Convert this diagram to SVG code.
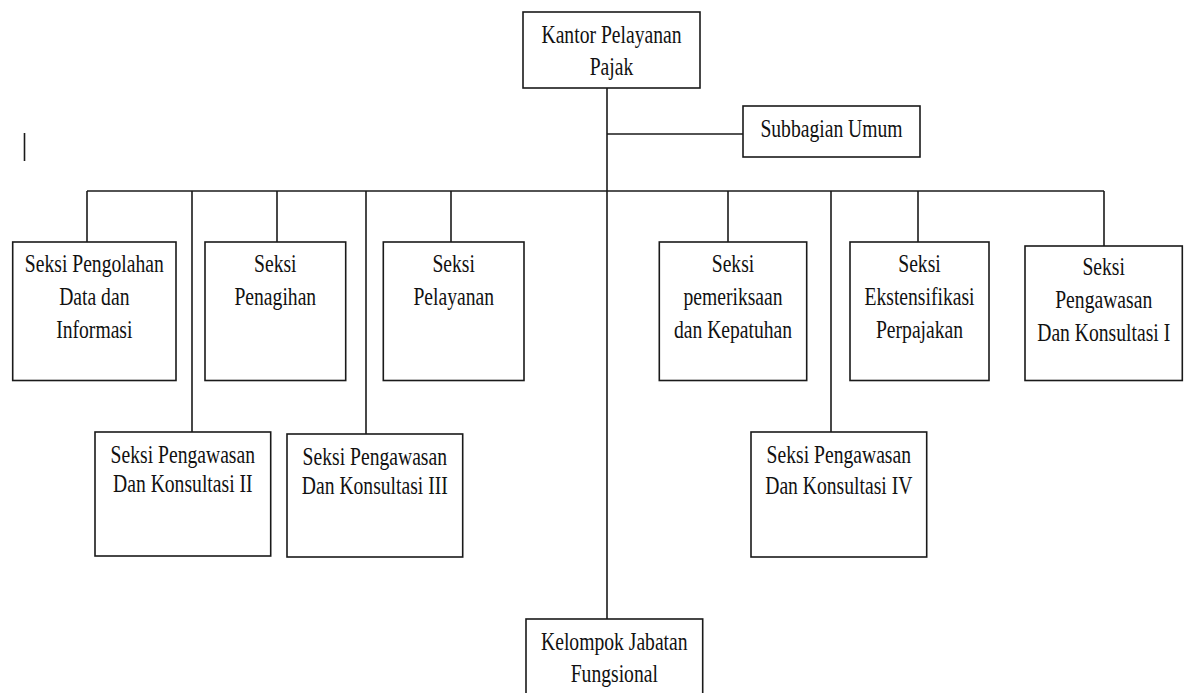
<svg xmlns="http://www.w3.org/2000/svg" width="1192" height="693" viewBox="0 0 1192 693">
  <style>
    .box { fill: #fff; stroke: #1a1a1a; stroke-width: 1.6; }
    .wire { fill: none; stroke: #1a1a1a; stroke-width: 1.6; }
    .lbl { font-family: "Liberation Serif", "DejaVu Serif", serif; font-size: 25px; fill: #111; text-anchor: middle; }
  </style>
  <rect width="1192" height="693" fill="#fff"/>

  <!-- connectors: trunk, side branch, bus and drops -->
  <g id="connectors" class="wire">
    <path d="M607 88 V619"/>
    <path d="M607 134 H743"/>
    <path d="M87 191 H1104"/>
    <path d="M87 191 V242"/>
    <path d="M192 191 V432"/>
    <path d="M277 191 V242"/>
    <path d="M366 191 V434"/>
    <path d="M451 191 V242"/>
    <path d="M728 191 V242"/>
    <path d="M831 191 V432"/>
    <path d="M918 191 V242"/>
    <path d="M1104 191 V246"/>
  </g>

  <!-- stray bar at left margin -->
  <path d="M24.5 133 V161" class="wire"/>

  <g id="kantor">
    <rect class="box" x="523" y="12" width="177" height="76"/>
    <g class="lbl" transform="translate(611.5 0) scale(0.785 1)">
      <text y="43">Kantor Pelayanan</text>
      <text y="75">Pajak</text>
    </g>
  </g>

  <g id="subbagian-umum">
    <rect class="box" x="743" y="106" width="177" height="51"/>
    <g class="lbl" transform="translate(831.5 0) scale(0.785 1)">
      <text y="137">Subbagian Umum</text>
    </g>
  </g>

  <g id="seksi-pdi">
    <rect class="box" x="12.7" y="242" width="163.3" height="138.5"/>
    <g class="lbl" transform="translate(94.3 0) scale(0.785 1)">
      <text y="272">Seksi Pengolahan</text>
      <text y="305">Data dan</text>
      <text y="338">Informasi</text>
    </g>
  </g>

  <g id="seksi-penagihan">
    <rect class="box" x="205" y="242" width="140.7" height="138.5"/>
    <g class="lbl" transform="translate(275.3 0) scale(0.785 1)">
      <text y="272">Seksi</text>
      <text y="305">Penagihan</text>
    </g>
  </g>

  <g id="seksi-pelayanan">
    <rect class="box" x="383.3" y="242" width="140.7" height="138.5"/>
    <g class="lbl" transform="translate(453.7 0) scale(0.785 1)">
      <text y="272">Seksi</text>
      <text y="305">Pelayanan</text>
    </g>
  </g>

  <g id="seksi-pemeriksaan">
    <rect class="box" x="659.3" y="242" width="147.4" height="138.5"/>
    <g class="lbl" transform="translate(733 0) scale(0.785 1)">
      <text y="272">Seksi</text>
      <text y="305">pemeriksaan</text>
      <text y="338">dan Kepatuhan</text>
    </g>
  </g>

  <g id="seksi-ekstensifikasi">
    <rect class="box" x="850" y="242" width="139" height="138.5"/>
    <g class="lbl" transform="translate(919.5 0) scale(0.785 1)">
      <text y="272">Seksi</text>
      <text y="305">Ekstensifikasi</text>
      <text y="338">Perpajakan</text>
    </g>
  </g>

  <g id="seksi-pk1">
    <rect class="box" x="1025" y="246" width="157.3" height="134.5"/>
    <g class="lbl" transform="translate(1103.7 0) scale(0.785 1)">
      <text y="275">Seksi</text>
      <text y="308">Pengawasan</text>
      <text y="341">Dan Konsultasi I</text>
    </g>
  </g>

  <g id="seksi-pk2">
    <rect class="box" x="95" y="432" width="175.7" height="124"/>
    <g class="lbl" transform="translate(182.8 0) scale(0.785 1)">
      <text y="463">Seksi Pengawasan</text>
      <text y="492">Dan Konsultasi II</text>
    </g>
  </g>

  <g id="seksi-pk3">
    <rect class="box" x="287" y="434" width="175.7" height="123"/>
    <g class="lbl" transform="translate(374.8 0) scale(0.785 1)">
      <text y="465">Seksi Pengawasan</text>
      <text y="494">Dan Konsultasi III</text>
    </g>
  </g>

  <g id="seksi-pk4">
    <rect class="box" x="751" y="432" width="175.7" height="125"/>
    <g class="lbl" transform="translate(838.8 0) scale(0.785 1)">
      <text y="463">Seksi Pengawasan</text>
      <text y="494">Dan Konsultasi IV</text>
    </g>
  </g>

  <g id="kelompok-jabatan">
    <rect class="box" x="526" y="619" width="176.7" height="90"/>
    <g class="lbl" transform="translate(614.3 0) scale(0.785 1)">
      <text y="650">Kelompok Jabatan</text>
      <text y="682">Fungsional</text>
    </g>
  </g>
</svg>
